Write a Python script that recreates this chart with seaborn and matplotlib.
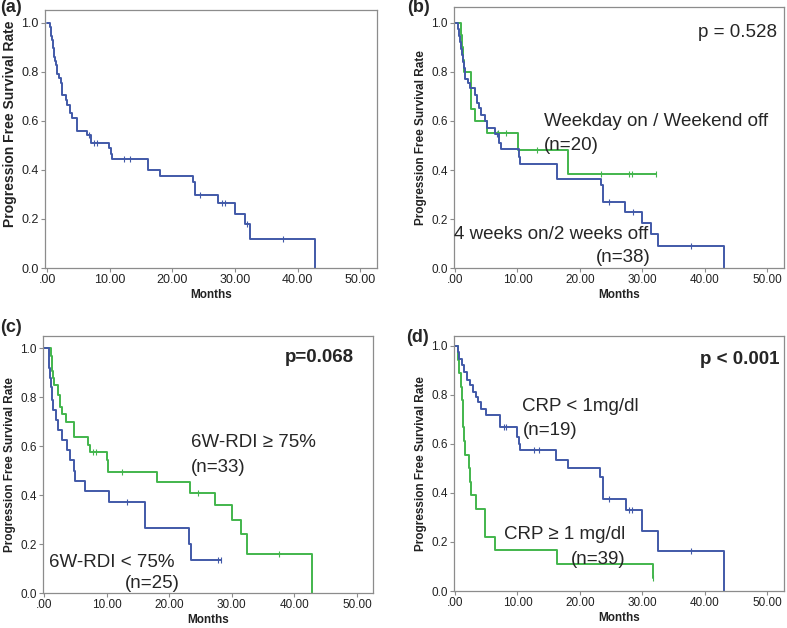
import numpy as np
import matplotlib
matplotlib.use('Agg')
import matplotlib.pyplot as plt
import seaborn as sns


### DATA ###

x_ticks = [0, 10, 20, 30, 40, 50]
x_tick_labels = ['.00', '10.00', '20.00', '30.00', '40.00', '50.00']
y_ticks = [0.0, 0.2, 0.4, 0.6, 0.8, 1.0]
y_tick_labels = ['0.0', '0.2', '0.4', '0.6', '0.8', '1.0']

# (a) all patients
a_time = [0, 0.45, 0.55, 0.65, 0.75, 0.85, 0.95, 1.05, 1.15, 1.25, 1.35,
          1.49, 1.87, 2.13, 2.40, 2.93, 3.20, 3.63, 4.00, 4.80, 6.40, 6.93,
          9.90, 10.13, 10.40, 16.10, 18.05, 23.25, 23.55, 27.35, 30.0, 31.6,
          32.45, 42.8]
a_surv = [1.0, 0.983, 0.966, 0.948, 0.931, 0.914, 0.897, 0.879, 0.862, 0.845,
          0.828, 0.790, 0.773, 0.753, 0.705, 0.685, 0.665, 0.631, 0.613, 0.559,
          0.543, 0.509, 0.488, 0.467, 0.446, 0.400, 0.377, 0.349, 0.297, 0.267,
          0.222, 0.178, 0.119, 0.0]
a_censor = [6.65, 7.4, 7.9, 12.3, 13.2, 24.4, 27.9, 28.4, 31.9, 37.6]

# (b) 4 weeks on / 2 weeks off (blue)
b_blue_time = [0, 0.48, 0.62, 0.78, 0.92, 1.08, 1.22, 1.38, 1.52, 1.65, 2.08,
               2.45, 3.15, 3.52, 3.90, 4.22, 4.75, 5.12, 6.46, 6.99, 7.42,
               10.19, 10.46, 16.33, 23.42, 23.64, 27.2, 30.0, 31.4, 32.5, 43.0]
b_blue_surv = [1.0, 0.974, 0.947, 0.921, 0.895, 0.868, 0.842, 0.816, 0.789,
               0.773, 0.753, 0.735, 0.705, 0.675, 0.651, 0.624, 0.600, 0.570,
               0.546, 0.509, 0.486, 0.455, 0.425, 0.364, 0.340, 0.269, 0.229,
               0.183, 0.138, 0.091, 0.0]
b_blue_censor = [6.8, 24.7, 28.5, 37.7]

# (b) weekday on / weekend off (green)
b_green_time = [0, 1.0, 1.15, 1.3, 1.45, 2.55, 3.15, 5.15, 10.1, 18.1, 32.1]
b_green_surv = [1.0, 0.95, 0.90, 0.85, 0.80, 0.65, 0.60, 0.55, 0.482, 0.385,
                0.385]
b_green_censor = [6.9, 8.2, 13.1, 23.3, 27.9, 28.3, 32.1]

# (c) 6W-RDI < 75% (blue)
c_blue_time = [0, 0.80, 0.88, 0.96, 1.10, 1.22, 1.49, 1.86, 2.29, 2.82, 3.62,
               4.15, 4.84, 4.95, 6.55, 10.35, 16.13, 23.10, 23.55, 28.3]
c_blue_surv = [1.0, 0.96, 0.92, 0.88, 0.84, 0.79, 0.747, 0.706, 0.666, 0.625,
               0.583, 0.542, 0.50, 0.458, 0.417, 0.370, 0.265, 0.20, 0.133,
               0.133]
c_blue_censor = [13.2, 27.8, 28.3]

# (c) 6W-RDI >= 75% (green)
c_green_time = [0, 1.12, 1.22, 1.32, 1.45, 1.65, 2.29, 2.55, 2.93, 3.46, 4.84,
                7.08, 7.35, 10.01, 10.15, 18.0, 23.35, 27.3, 30.0, 31.45,
                32.45, 42.75]
c_green_surv = [1.0, 0.97, 0.939, 0.909, 0.879, 0.849, 0.81, 0.761, 0.73,
                0.697, 0.639, 0.606, 0.575, 0.545, 0.496, 0.455, 0.41, 0.36,
                0.30, 0.24, 0.16, 0.0]
c_green_censor = [7.8, 8.3, 12.4, 24.6, 37.5]

# (d) CRP < 1mg/dl (blue)
d_blue_time = [0, 0.48, 0.69, 1.12, 1.39, 1.92, 2.45, 2.83, 3.36, 3.68, 4.22,
               4.96, 7.26, 9.92, 10.19, 10.46, 16.17, 18.09, 23.27, 23.64,
               27.3, 30.0, 32.55, 43.0]
d_blue_surv = [1.0, 0.974, 0.948, 0.921, 0.894, 0.86, 0.84, 0.812, 0.79,
               0.771, 0.744, 0.717, 0.667, 0.628, 0.60, 0.574, 0.536, 0.503,
               0.465, 0.377, 0.33, 0.245, 0.163, 0.0]
d_blue_censor = [7.8, 8.2, 12.6, 13.4, 24.7, 27.9, 28.3, 37.7]

# (d) CRP >= 1 mg/dl (green)
d_green_time = [0, 0.45, 0.65, 0.9, 1.05, 1.2, 1.35, 1.5, 1.65, 2.29, 2.45,
                2.61, 3.36, 4.86, 6.46, 16.33, 31.65, 31.75]
d_green_surv = [1.0, 0.944, 0.889, 0.833, 0.778, 0.722, 0.667, 0.611, 0.555,
                0.50, 0.445, 0.39, 0.335, 0.222, 0.166, 0.11, 0.055, 0.055]
d_green_censor = [31.75]

BLUE = '#4159A8'
GREEN = '#42B54C'
FRAME = '#8c8c8c'


### HELPERS ###

def step_value(times, surv, t):
    idx = np.searchsorted(times, t, side='right') - 1
    return np.asarray(surv)[idx]


def draw_curve(ax, times, surv, censor, color):
    sns.lineplot(x=times, y=surv, drawstyle='steps-post', color=color,
                 linewidth=1.4, estimator=None, sort=False, ax=ax)
    sns.scatterplot(x=censor, y=step_value(times, surv, censor), marker='|',
                    s=14, color=color, linewidth=0.8, legend=False, ax=ax)


def style_axes(ax, xlim, ylim, tick_size, ylabel_size):
    ax.set_xlim(*xlim)
    ax.set_ylim(*ylim)
    ax.set_xticks(x_ticks)
    ax.set_xticklabels(x_tick_labels)
    ax.set_yticks(y_ticks)
    ax.set_yticklabels(y_tick_labels)
    ax.tick_params(bottom=True, left=True, direction='out', length=3,
                   width=0.8, color=FRAME, labelsize=tick_size, pad=1.5,
                   labelcolor='#222222')
    for spine in ax.spines.values():
        spine.set_visible(True)
        spine.set_color(FRAME)
        spine.set_linewidth(0.9)
    ax.set_xlabel('Months', fontweight='bold', fontsize=8.5, labelpad=2,
                  color='#222222')
    ax.set_ylabel('Progression Free Survival Rate', fontweight='bold',
                  fontsize=ylabel_size, labelpad=3, color='#222222')


### FIGURE ###

sns.set_style('white')
plt.rcParams['font.family'] = ['Liberation Sans', 'DejaVu Sans']

fig = plt.figure(figsize=(7.87, 6.28), dpi=100)

ax_a = fig.add_axes([0.0572, 0.5732, 0.4219, 0.4108])
ax_b = fig.add_axes([0.5769, 0.5732, 0.4193, 0.4156])
ax_c = fig.add_axes([0.0546, 0.0557, 0.4193, 0.4092])
ax_d = fig.add_axes([0.5769, 0.0589, 0.4193, 0.4061])

# (a)
draw_curve(ax_a, a_time, a_surv, a_censor, BLUE)
style_axes(ax_a, (-0.35, 52.7), (0, 1.052), 9, 10)
ax_a.yaxis.label.set_y(0.558)

# (b)
draw_curve(ax_b, b_green_time, b_green_surv, b_green_censor, GREEN)
draw_curve(ax_b, b_blue_time, b_blue_surv, b_blue_censor, BLUE)
style_axes(ax_b, (-0.16, 52.67), (0, 1.065), 8.5, 8.5)
ax_b.text(51.6, 0.963, 'p = 0.528', fontsize=13.5, ha='right', va='center')
ax_b.text(14.25, 0.597, 'Weekday on / Weekend off', fontsize=13.5,
          ha='left', va='center')
ax_b.text(14.25, 0.498, '(n=20)', fontsize=13.5, ha='left', va='center')
ax_b.text(-0.16, 0.136, '4 weeks on/2 weeks off', fontsize=13.5,
          ha='left', va='center')
ax_b.text(22.5, 0.041, '(n=38)', fontsize=13.5, ha='left', va='center')

# (c)
draw_curve(ax_c, c_green_time, c_green_surv, c_green_censor, GREEN)
draw_curve(ax_c, c_blue_time, c_blue_surv, c_blue_censor, BLUE)
style_axes(ax_c, (-0.16, 52.56), (0, 1.05), 8.5, 8.5)
ax_c.text(38.55, 0.962, 'p=0.068', fontsize=13.5, fontweight='bold',
          ha='left', va='center')
ax_c.text(23.5, 0.615, '6W-RDI ≥ 75%', fontsize=13.5, ha='left', va='center')
ax_c.text(23.5, 0.511, '(n=33)', fontsize=13.5, ha='left', va='center')
ax_c.text(0.8, 0.126, '6W-RDI < 75%', fontsize=13.5, ha='left', va='center')
ax_c.text(12.9, 0.038, '(n=25)', fontsize=13.5, ha='left', va='center')

# (d)
draw_curve(ax_d, d_green_time, d_green_surv, d_green_censor, GREEN)
draw_curve(ax_d, d_blue_time, d_blue_surv, d_blue_censor, BLUE)
style_axes(ax_d, (-0.16, 52.67), (0, 1.04), 8.5, 8.5)
ax_d.text(39.2, 0.946, 'p < 0.001', fontsize=13.5, fontweight='bold',
          ha='left', va='center')
ax_d.text(10.8, 0.751, 'CRP < 1mg/dl', fontsize=13.5, ha='left', va='center')
ax_d.text(10.8, 0.653, '(n=19)', fontsize=13.5, ha='left', va='center')
ax_d.text(7.84, 0.231, 'CRP ≥ 1 mg/dl', fontsize=13.5, ha='left', va='center')
ax_d.text(18.5, 0.129, '(n=39)', fontsize=13.5, ha='left', va='center')

# panel letters
fig.text(0.0, 1 - 8 / 628, '(a)', fontsize=13, fontweight='bold',
         ha='left', va='center')
fig.text(407 / 787, 1 - 8 / 628, '(b)', fontsize=13, fontweight='bold',
         ha='left', va='center')
fig.text(0.0, 1 - 328 / 628, '(c)', fontsize=13, fontweight='bold',
         ha='left', va='center')
fig.text(406 / 787, 1 - 338 / 628, '(d)', fontsize=13, fontweight='bold',
         ha='left', va='center')

fig.savefig('out.png', dpi=100)
